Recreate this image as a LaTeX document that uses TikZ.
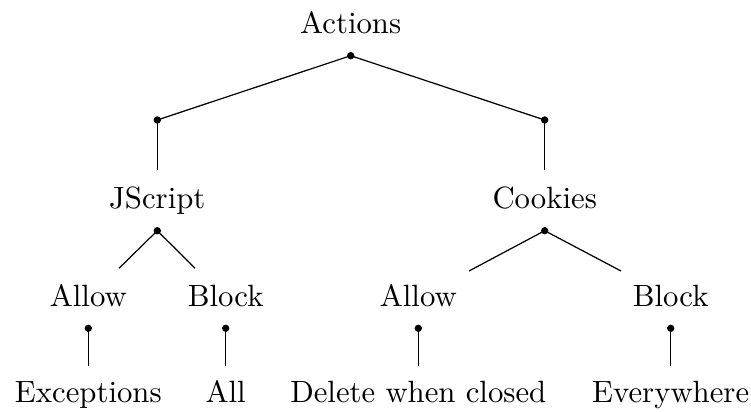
\documentclass[tikz,border=0pt]{standalone}
\begin{document}
\begin{tikzpicture}[x=0.3252pt,y=-0.3252pt,
  lbl/.style={anchor=base,inner sep=0pt,font=\fontsize{10pt}{12pt}\selectfont},
  dot/.style={circle,fill=black,inner sep=0pt,minimum size=2.4pt},
  edge/.style={draw=black,line width=0.4pt}]
\useasboundingbox (0,0) rectangle (751,412);
% labels
\node[lbl] (actions) at (350.7,33.3) {Actions};
\node[lbl] (jscript) at (157.3,208) {JScript};
\node[lbl] (cookies) at (544.7,208) {Cookies};
\node[lbl] (jallow) at (88.3,306) {Allow};
\node[lbl] (jblock) at (225.7,306) {Block};
\node[lbl] (callow) at (418.3,306) {Allow};
\node[lbl] (cblock) at (670.7,306) {Block};
\node[lbl] (exc) at (88.3,402.7) {Exceptions};
\node[lbl] (all) at (225.7,402.7) {All};
\node[lbl] (del) at (418.3,402.7) {Delete when closed};
\node[lbl] (every) at (670.7,402.7) {Everywhere};
% dots
\node[dot] (d0) at (350.7,55.7) {};
\node[dot] (d1) at (157.3,120) {};
\node[dot] (d2) at (544.7,120) {};
\node[dot] (d3) at (157.3,230.7) {};
\node[dot] (d4) at (544.7,230.7) {};
\node[dot] (d5) at (88.3,328.3) {};
\node[dot] (d6) at (225.7,328.3) {};
\node[dot] (d7) at (418.3,328.3) {};
\node[dot] (d8) at (670.7,328.3) {};
% free ends
\coordinate (e1) at (157.3,170);
\coordinate (e2) at (544.7,170);
\coordinate (e3) at (119,268.3);
\coordinate (e4) at (195,268.3);
\coordinate (e5) at (469,271);
\coordinate (e6) at (621,271);
\coordinate (e7) at (88.3,365.7);
\coordinate (e8) at (225.7,365.7);
\coordinate (e9) at (418.3,365.7);
\coordinate (e10) at (670.7,365.7);
% connectors
\draw[edge] (d1.center) -- (d0.center) -- (d2.center);
\draw[edge] (d1.center) -- (e1);
\draw[edge] (d2.center) -- (e2);
\draw[edge] (e3) -- (d3.center) -- (e4);
\draw[edge] (e5) -- (d4.center) -- (e6);
\draw[edge] (d5.center) -- (e7);
\draw[edge] (d6.center) -- (e8);
\draw[edge] (d7.center) -- (e9);
\draw[edge] (d8.center) -- (e10);
\end{tikzpicture}
\end{document}
